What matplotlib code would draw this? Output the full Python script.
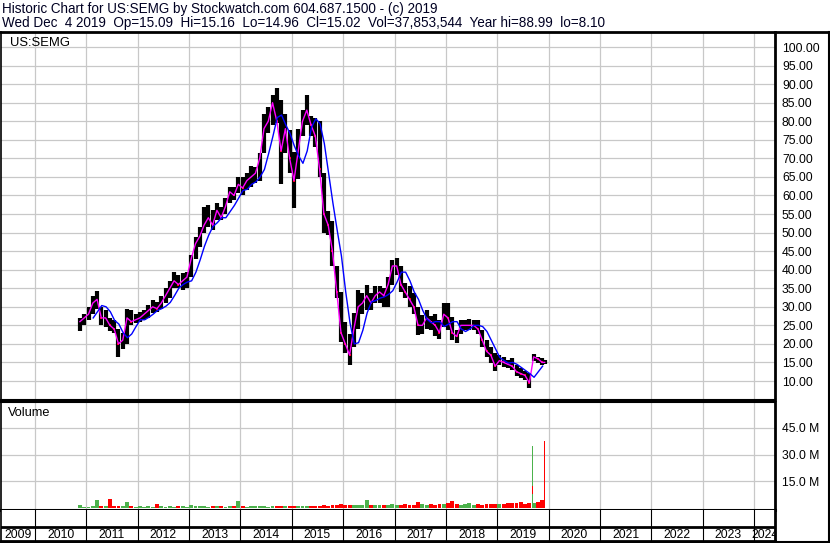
import numpy as np
import pandas as pd
import matplotlib
matplotlib.use('Agg')
import matplotlib.pyplot as plt
from matplotlib.lines import Line2D

plt.rcParams['font.family'] = ['Liberation Sans', 'DejaVu Sans']

# monthly bars, Nov 2010 .. Dec 2019
months = pd.period_range('2010-11', '2019-12', freq='M')
lows = [23.5, 25,
        26.5, 28, 29.5, 25, 24.5, 23.5, 23, 16.5, 18.5, 20, 25, 25.5,
        26, 26.5, 27, 28.3, 28.5, 29.5, 31, 32.5, 35, 35, 34.5, 35,
        38, 43, 46, 50, 51.5, 50.7, 53.4, 53.4, 55, 58, 58.8, 60.6,
        60, 61.5, 62.3, 63.4, 64, 71.4, 76.8, 79, 79.4, 63, 71.4, 66,
        56.6, 64.5, 76, 79, 76, 73, 65, 50, 49.4, 41, 32.3, 20.5,
        17.5, 14.2, 19.2, 24, 28, 29, 29, 31, 31, 30, 30, 36,
        38.6, 34, 32.3, 30, 28, 22.4, 22.8, 24, 23.7, 22, 21.3, 24.6,
        23.7, 21, 20.2, 22.8, 23.7, 23.7, 23.7, 22.8, 19.2, 16.6, 14.8, 12.6,
        14.3, 13.9, 13.5, 13, 11.3, 10.8, 10.4, 8.1, 15.3, 14.8, 14.4, 14.5]
highs = [27, 28,
         30, 33, 34.3, 30, 29, 27, 26.5, 24, 23, 29.5, 29, 28,
         28.5, 29, 30.5, 31.8, 31.3, 33, 35, 37, 39.4, 38.5, 39, 39.5,
         44, 48.8, 51.4, 57, 57.4, 56, 58, 57, 59.3, 62.3, 62.3, 65,
         65, 66, 68, 67.7, 71.4, 82, 83.8, 87, 88.99, 85.7, 82, 77.6,
         71.8, 78, 83, 87, 81.5, 81, 80, 66, 55.7, 53, 41, 34,
         26, 22.8, 28.2, 34.5, 33.6, 35.8, 33.6, 35.5, 35.5, 35, 38, 42.5,
         43.2, 41, 36.5, 35.5, 33.6, 30, 27.8, 29, 27.5, 28, 26.5, 31,
         31, 27.3, 23.7, 26.4, 26.4, 26.6, 26.4, 26.4, 23.7, 21, 19.2, 17.5,
         17, 16.6, 15.7, 16.2, 14.4, 13.5, 12.6, 12.2, 17.2, 16.6, 16.2, 15.6]
closes = [26, 27,
          28, 31, 32, 27, 27, 25, 24, 20, 21, 27, 26, 26.5,
          27, 28, 29, 30, 29.5, 31, 33, 35, 37, 36, 37, 38,
          43, 47, 49, 52, 54, 52, 56, 54, 57, 61, 60, 63,
          62, 64, 65, 66, 70, 78, 80, 85, 80, 72, 78, 70,
          64, 72, 80, 83, 79, 76, 67, 55, 52, 45, 34, 23,
          20, 17, 24, 30, 31, 33, 31, 33, 34, 33, 36, 41,
          41, 36, 34, 32, 30, 25, 25, 27, 26, 25, 23, 28,
          27, 23, 22, 25, 25, 25, 25, 24, 21, 18, 17, 14,
          15.5, 15, 14.5, 14, 12.5, 12, 11.5, 9.5, 16.5, 16, 15, 15.02]
# volume, millions (tallest daily bar per month)
volume = [1.6, 0.6,
          0.8, 1.0, 4.5, 1.0, 1.4, 5.0, 1.0, 1.2, 1.0, 3.6, 1.0, 0.8,
          0.9, 0.7, 1.0, 0.8, 2.0, 0.9, 0.8, 1.0, 0.7, 0.9, 1.0, 0.8,
          1.5, 1.0, 0.9, 1.1, 0.8, 1.2, 0.9, 1.0, 0.8, 1.1, 0.9, 4.0,
          1.0, 0.8, 1.0, 1.2, 0.9, 1.3, 0.8, 1.0, 1.1, 1.4, 1.0, 1.2,
          0.9, 1.0, 1.3, 1.1, 0.9, 1.2, 1.0, 1.5, 1.4, 1.6, 1.8, 2.0,
          1.8, 1.6, 1.5, 1.9, 1.7, 4.5, 1.5, 1.8, 1.6, 1.9, 1.7, 2.0,
          1.8, 1.6, 2.0, 1.7, 1.9, 3.5, 2.0, 1.8, 2.2, 1.9, 2.0, 2.4,
          2.6, 4.0, 2.0, 1.8, 2.0, 2.8, 1.7, 2.0, 1.8, 2.2, 2.5, 2.4,
          2.3, 2.0, 2.8, 3.0, 2.6, 3.2, 2.5, 3.0, 3.0, 3.6, 4.5, 0.0]
spike_date = ['2019-09-09', '2019-09-09', '2019-09-09', '2019-12-04']
spike_vol = [34.8, 12.4, 8.0, 37.85]
spike_col = ['#4cb24c', 'red', '#4cb24c', 'red']

header1 = 'Historic Chart for US:SEMG by Stockwatch.com 604.687.1500 - (c) 2019'
header2 = ('Wed Dec  4 2019  Op=15.09  Hi=15.16  Lo=14.96  Cl=15.02  '
           'Vol=37,853,544  Year hi=88.99  lo=8.10')
years = list(range(2009, 2025))


def dec_year(d):
    d = pd.Timestamp(d)
    return d.year + (d.dayofyear - 1) / 365.25


x = np.array([m.year + (m.month - 0.5) / 12 for m in months])
last_day = dec_year('2019-12-04')
x[-1] = last_day
df = pd.DataFrame({'x': x, 'lo': lows, 'hi': highs, 'cl': closes, 'vol': volume})
# long moving average of the closes, drawn lagged like a trailing daily average
df['ma_long'] = df['cl'].rolling(3).mean()
df['x_ma'] = df['x'] + 1.1 / 12
ma = df[df['x_ma'] <= last_day]
down = df['cl'].diff() < 0

W, H = 830, 543
fig = plt.figure(figsize=(W / 100, H / 100), dpi=100)


def box(x0, y0, x1, y1):
    return [x0 / W, 1 - y1 / H, (x1 - x0) / W, (y1 - y0) / H]


xmin, xmax = 2010 + (1 - 35) / 51.36, 2010 + (775 - 35) / 51.36
grid = '#c8c8c8'

# price panel
ax = fig.add_axes(box(1, 32, 775, 400))
ax.set_xlim(xmin, xmax)
ax.set_ylim(4.88, 104.05)
for yr in years:
    ax.axvline(yr, color=grid, lw=0.9, zorder=0)
for p in range(10, 101, 5):
    ax.axhline(p, color=grid, lw=0.9, zorder=0)
ax.vlines(df['x'], df['lo'], df['hi'], color='black', lw=3.0, zorder=2)
ax.plot(df['x'][down], df['cl'][down], 's', color='red', ms=2.0, mew=0, zorder=3)
ax.plot(df['x'], df['cl'], color='#ff00ff', lw=1.0, zorder=4)
ax.plot(ma['x_ma'], ma['ma_long'], color='#0000ff', lw=1.0, zorder=5)
ax.yaxis.tick_right()
ax.set_yticks(range(10, 101, 5))
ax.set_yticklabels(['%.2f' % p for p in range(10, 101, 5)])
ax.tick_params(axis='y', length=0, pad=5, labelsize=8.7)
ax.set_xticks([])
for s in ['left', 'top']:
    ax.spines[s].set_visible(False)
ax.spines['right'].set_linewidth(2)
ax.spines['bottom'].set_linewidth(1.5)

# volume panel
av = fig.add_axes(box(1, 402, 775, 510))
av.set_xlim(xmin, xmax)
av.set_ylim(-1.12, 59.55)
for yr in years:
    av.axvline(yr, color=grid, lw=0.9, zorder=0)
for v in [15, 30, 45]:
    av.axhline(v, color=grid, lw=0.9, zorder=0)
vcol = np.where(down, 'red', '#4cb24c')
av.bar(df['x'], df['vol'], width=0.075, color=vcol, zorder=2)
av.bar([dec_year(d) for d in spike_date], spike_vol, width=0.022,
       color=spike_col, zorder=3)
av.yaxis.tick_right()
av.set_yticks([15, 30, 45])
av.set_yticklabels(['15.0 M', '30.0 M', '45.0 M'])
av.tick_params(axis='y', length=0, pad=5, labelsize=8.7)
av.set_xticks([])
av.spines['left'].set_visible(False)
av.spines['top'].set_linewidth(1.5)
av.spines['bottom'].set_linewidth(2.2)
av.spines['right'].set_linewidth(2)

# year strip
ay = fig.add_axes(box(1, 510, 775, 541))
ay.set_xlim(xmin, xmax)
ay.set_ylim(0, 31)
ay.axhline(14.5, color='black', lw=2)
for yr in years:
    ay.axvline(yr, color='black', lw=0.8)
    lo_, hi_ = max(yr, xmin), min(yr + 1, xmax)
    ay.text((lo_ + hi_) / 2, 6.5, str(yr), ha='center', va='center',
            fontsize=8.8, clip_on=True)
ay.set_xticks([])
ay.set_yticks([])
ay.spines['left'].set_visible(False)
ay.spines['top'].set_visible(False)
ay.spines['right'].set_linewidth(2)
ay.spines['bottom'].set_linewidth(2)

# header and panel titles
fig.text(2 / W, 1 - 9 / H, header1, fontsize=9.75, va='center', color='#000022')
fig.text(2 / W, 1 - 23 / H, header2, fontsize=9.75, va='center', color='#000022')
fig.text(10 / W, 1 - 43 / H, 'US:SEMG', fontsize=9.4, va='center')
fig.text(8 / W, 1 - 413 / H, 'Volume', fontsize=9.2, va='center')
fig.add_artist(Line2D([0, 1], [1 - 31.5 / H] * 2, transform=fig.transFigure,
                      color='black', lw=2))
fig.add_artist(Line2D([0.6 / W] * 2, [1 - 31.5 / H, 0], transform=fig.transFigure,
                      color='black', lw=1.2))
fig.add_artist(Line2D([828.5 / W] * 2, [1 - 31.5 / H, 0], transform=fig.transFigure,
                      color='black', lw=1.5))
fig.add_artist(Line2D([0, 1], [1 - 541.5 / H] * 2, transform=fig.transFigure,
                      color='black', lw=1.5))

fig.savefig('out.png', dpi=100)
